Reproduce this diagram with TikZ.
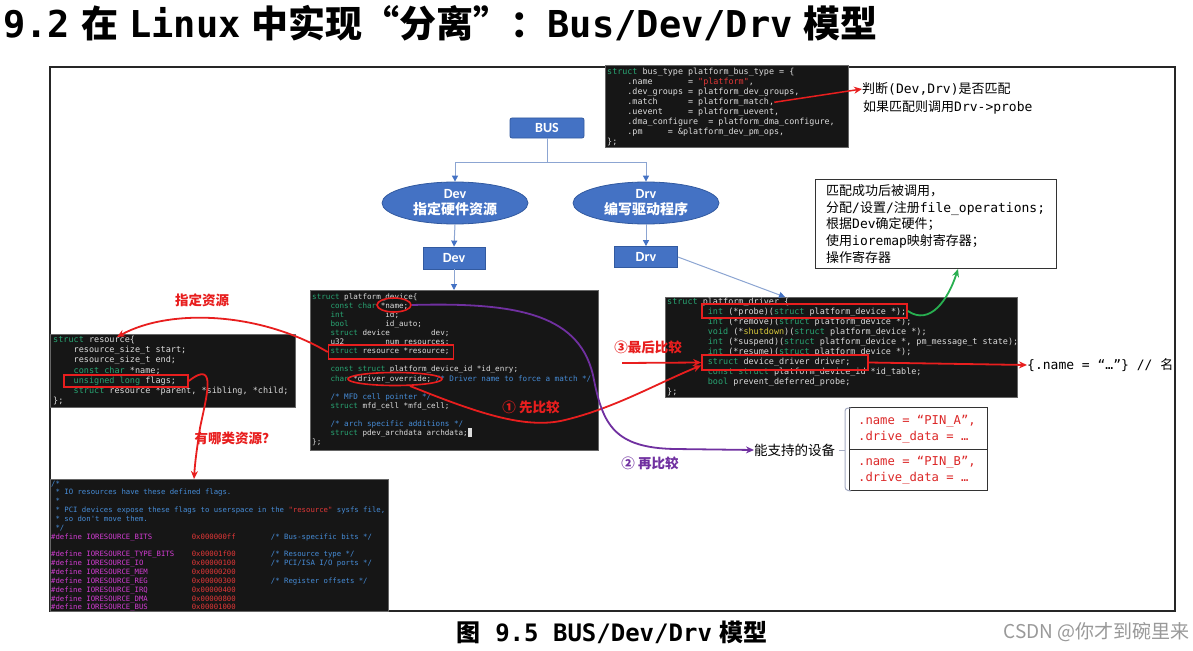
\documentclass[tikz,border=0pt]{standalone}
\usepackage{fontspec}
\setmainfont{DejaVu Sans Mono}
\setmonofont{DejaVu Sans Mono}
\newfontfamily\cjk{Noto Sans CJK SC}
\newfontfamily\carl{Carlito}
\usetikzlibrary{arrows.meta,shapes.geometric,calc}
\definecolor{bl}{RGB}{68,114,196}
\definecolor{bld}{RGB}{50,90,160}
\definecolor{cn}{RGB}{140,165,210}
\definecolor{rd}{RGB}{232,30,30}
\definecolor{gr}{RGB}{40,175,80}
\definecolor{pu}{RGB}{112,48,160}
\definecolor{codebg}{RGB}{22,22,22}
\definecolor{tx}{RGB}{220,220,220}
\definecolor{kw}{RGB}{40,165,115}
\definecolor{cm}{RGB}{70,140,215}
\definecolor{st}{RGB}{225,55,55}
\definecolor{ye}{RGB}{215,200,60}
\definecolor{mg}{RGB}{210,60,210}
\definecolor{pinred}{RGB}{220,40,40}
\definecolor{brk}{RGB}{165,172,195}
\newcommand\zh[1]{{\cjk #1}}
\newcommand\K[1]{\textcolor{kw}{#1}}
\newcommand\C[1]{\textcolor{cm}{#1}}
\newcommand\Q[1]{\textcolor{st}{#1}}
\newcommand\Y[1]{\textcolor{ye}{#1}}
\newcommand\M[1]{\textcolor{mg}{#1}}
\newcommand\Sp[1]{\hspace*{#1\fontcharwd\font`x}}
\newcounter{cbl}
\newcommand\cbstart[4]{\gdef\cbname{#1}\gdef\cbx{#2}\gdef\cby{#3}\gdef\cbd{#4}\setcounter{cbl}{0}}
\newcommand\codeln[1]{\node[codeln] (\cbname-\arabic{cbl}) at (\cbx,{\cby+\arabic{cbl}*\cbd}) {#1};\stepcounter{cbl}}
\newcommand\codeskip{\stepcounter{cbl}}
\tikzset{
  codeln/.style={anchor=base west, inner sep=0pt, text=tx},
  codebox/.style={fill=codebg, draw=black!60, line width=0.5pt, anchor=north west, inner sep=0pt},
  bshape/.style={fill=bl, draw=bld, line width=0.8pt, text=white, inner sep=0pt,
    font=\carl\bfseries\fontsize{14}{16}\selectfont},
  conn/.style={draw=cn, line width=1pt},
  carr/.style={conn, -{Triangle[length=6pt,width=6pt,color=bl]}},
  hl/.style={draw=rd, line width=1.6pt, inner sep=0pt},
  rarr/.style={draw=rd, line width=1.8pt, -{Stealth[length=8pt,width=7pt]}},
  garr/.style={draw=gr, line width=1.8pt, -{Stealth[length=8pt,width=7pt]}},
  parr/.style={draw=pu, line width=1.8pt, -{Stealth[length=8pt,width=7pt]}},
  lbl/.style={inner sep=0pt, font=\fontsize{13}{16}\selectfont},
  redlbl/.style={inner sep=0pt, text=rd, font=\cjk\bfseries\fontsize{13.5}{16}\selectfont},
  pintx/.style={inner sep=0pt, anchor=west, text=pinred, font=\fontsize{12.2}{14}\selectfont},
}
\begin{document}
\begin{tikzpicture}[x=1pt,y=-1pt]
\useasboundingbox (0,0) rectangle (1193,650);
\fill[white] (0,0) rectangle (1193,650);
% title
\node[anchor=base west, inner sep=0pt] (title) at (3,38)
  {\fontsize{37}{40}\selectfont\bfseries 9.2\hspace{0.3em}\zh{在}\hspace{0.3em}Linux\hspace{0.3em}\zh{中实现“分离”：}Bus/Dev/Drv\hspace{0.3em}\zh{模型}};
% frame
\draw[line width=1.5pt, black!85] (50,67) rectangle (1175,611);
% caption and watermark
\node[inner sep=0pt] (caption) at (612,632)
  {\fontsize{24}{28}\selectfont\bfseries \zh{图} 9.5 BUS/Dev/Drv\hspace{0.3em}\zh{模型}};
\node[anchor=east, inner sep=0pt, text=black!40] (wm) at (1190,632)
  {\cjk\fontsize{19}{22}\selectfont CSDN @你才到碗里来};

% ---------- code boxes ----------
\node[codebox, minimum width=243pt, minimum height=82pt] (busc) at (605,65) {};
\node[codebox, minimum width=288pt, minimum height=160pt] (pdev) at (310,290) {};
\node[codebox, minimum width=352pt, minimum height=100pt] (pdrv) at (665,297) {};
\node[codebox, minimum width=245pt, minimum height=73pt] (res) at (50,334) {};
\node[codebox, minimum width=338pt, minimum height=132pt] (defs) at (50,479) {};

% bus_type
\begin{scope}[every node/.append style={font=\ttfamily\fontsize{8.4}{10}\selectfont}]
\cbstart{bus}{607}{74.5}{10}
\codeln{\K{struct} bus\_type platform\_bus\_type = \{}
\codeln{\Sp4.name\Sp7= \Q{"platform"},}
\codeln{\Sp4.dev\_groups = platform\_dev\_groups,}
\codeln{\Sp4.match\Sp6= platform\_match,}
\codeln{\Sp4.uevent\Sp5= platform\_uevent,}
\codeln{\Sp4.dma\_configure\Sp2= platform\_dma\_configure,}
\codeln{\Sp4.pm\Sp5= \&platform\_dev\_pm\_ops,}
\codeln{\};}
\end{scope}

% platform_device
\begin{scope}[every node/.append style={font=\ttfamily\fontsize{7.6}{9}\selectfont}]
\cbstart{pd}{312}{299.5}{9.06}
\codeln{\K{struct} platform\_device\{}
\codeln{\Sp4\K{const char} *name;}
\codeln{\Sp4\K{int}\Sp9id;}
\codeln{\Sp4\K{bool}\Sp8id\_auto;}
\codeln{\Sp4\K{struct} device\Sp9dev;}
\codeln{\Sp4u32\Sp9num\_resources;}
\codeln{\Sp4\K{struct} resource *resource;}
\codeskip
\codeln{\Sp4\K{const struct} platform\_device\_id *id\_enry;}
\codeln{\Sp4\K{char} *driver\_override; \C{/* Driver name to force a match */}}
\codeskip
\codeln{\Sp4\C{/* MFD cell pointer */}}
\codeln{\Sp4\K{struct} mfd\_cell *mfd\_cell;}
\codeskip
\codeln{\Sp4\C{/* arch specific additions */}}
\codeln{\Sp4\K{struct} pdev\_archdata archdata;\textcolor{tx}{\rule[-1.5pt]{4.5pt}{8.5pt}}}
\codeln{\};}
\end{scope}

% platform_driver
\begin{scope}
\clip (pdrv.north west) rectangle (pdrv.south east);
\begin{scope}[every node/.append style={font=\ttfamily\fontsize{8.45}{10}\selectfont}]
\cbstart{pr}{667}{304.5}{10}
\codeln{\K{struct} platform\_driver \{}
\codeln{\Sp8\K{int} (*probe)(\K{struct} platform\_device *);}
\codeln{\Sp8\K{int} (*remove)(\K{struct} platform\_device *);}
\codeln{\Sp8\K{void} (*\Y{shutdown})(\K{struct} platform\_device *);}
\codeln{\Sp8\K{int} (*suspend)(\K{struct} platform\_device *, pm\_message\_t state);}
\codeln{\Sp8\K{int} (*resume)(\K{struct} platform\_device *);}
\codeln{\Sp8\K{struct} device\_driver driver;}
\codeln{\Sp8\K{const struct} platform\_device\_id *id\_table;}
\codeln{\Sp8\K{bool} prevent\_deferred\_probe;}
\codeln{\};}
\end{scope}
\end{scope}

% resource
\begin{scope}[every node/.append style={font=\ttfamily\fontsize{8.5}{10}\selectfont}]
\cbstart{rs}{53}{342.5}{10.2}
\codeln{\K{struct} resource\{}
\codeln{\Sp4resource\_size\_t start;}
\codeln{\Sp4resource\_size\_t end;}
\codeln{\Sp4\K{const char} *name;}
\codeln{\Sp4\K{unsigned long} flags;}
\codeln{\Sp4\K{struct} resource *parent, *sibling, *child;}
\codeln{\};}
\end{scope}

% defines
\begin{scope}
\clip (defs.north west) rectangle (defs.south east);
\begin{scope}[every node/.append style={font=\ttfamily\fontsize{7.3}{9}\selectfont}]
\cbstart{df}{51}{486}{8.85}
\codeln{\C{/*}}
\codeln{\C{\Sp1* IO resources have these defined flags.}}
\codeln{\C{\Sp1*}}
\codeln{\C{\Sp1* PCI devices expose these flags to userspace in the \Q{"resource"} sysfs file,}}
\codeln{\C{\Sp1* so don't move them.}}
\codeln{\C{\Sp1*/}}
\codeln{\M{\#define IORESOURCE\_BITS}\Sp9\Q{0x000000ff}\Sp8\C{/* Bus-specific bits */}}
\codeskip
\codeln{\M{\#define IORESOURCE\_TYPE\_BITS}\Sp4\Q{0x00001f00}\Sp8\C{/* Resource type */}}
\codeln{\M{\#define IORESOURCE\_IO}\Sp{11}\Q{0x00000100}\Sp8\C{/* PCI/ISA I/O ports */}}
\codeln{\M{\#define IORESOURCE\_MEM}\Sp{10}\Q{0x00000200}}
\codeln{\M{\#define IORESOURCE\_REG}\Sp{10}\Q{0x00000300}\Sp8\C{/* Register offsets */}}
\codeln{\M{\#define IORESOURCE\_IRQ}\Sp{10}\Q{0x00000400}}
\codeln{\M{\#define IORESOURCE\_DMA}\Sp{10}\Q{0x00000800}}
\codeln{\M{\#define IORESOURCE\_BUS}\Sp{10}\Q{0x00001000}}
\end{scope}
\end{scope}

% ---------- blue tree ----------
\node[bshape, rectangle, rounded corners=2pt, minimum width=74pt, minimum height=20pt] (bus) at (547,128) {BUS};
\node[bshape, ellipse, minimum width=146pt, minimum height=42pt, align=center] (devE) at (455,203) {Dev\\\zh{指定硬件资源}};
\node[bshape, ellipse, minimum width=146pt, minimum height=42pt, align=center] (drvE) at (646,203) {Drv\\\zh{编写驱动程序}};
\node[bshape, rectangle, minimum width=62pt, minimum height=22pt] (devB) at (454,258) {Dev};
\node[bshape, rectangle, minimum width=63pt, minimum height=21pt] (drvB) at (646,257) {Drv};
\coordinate (bj) at (547,162);
\draw[conn] (bus.south) -- (bj);
\draw[carr] (bj) -| (devE.north);
\draw[carr] (bj) -| (drvE.north);
\draw[carr] (devE.south) -- (devB.north);
\draw[carr] (drvE.south) -- (drvB.north);
\draw[carr] (devB.south) -- (devB.south |- pdev.north);
\draw[carr] (drvB.east) -- ($(pdrv.north west)+(120,0)$);

% ---------- highlights ----------
\node[hl, ellipse, minimum width=34pt, minimum height=14pt] (nameE) at (394,305) {};
\node[hl, rectangle, minimum width=125pt, minimum height=14pt] (resR) at (391,352) {};
\node[hl, ellipse, minimum width=94pt, minimum height=13pt] (ovE) at (395,379) {};
\node[hl, rectangle, minimum width=205pt, minimum height=14pt] (probeR) at (804.5,311) {};
\node[hl, rectangle, minimum width=166pt, minimum height=15pt] (drvR) at (785,362.5) {};
\node[hl, rectangle, minimum width=124pt, minimum height=12pt] (flagsR) at (126,381) {};

% ---------- labels ----------
\node[lbl, anchor=west] (judge1) at (862,89) {\zh{判断}(Dev,Drv)\zh{是否匹配}};
\node[lbl, anchor=west] (judge2) at (863,107) {\zh{如果匹配则调用}Drv->probe};
\node[draw=black!80, line width=1pt, minimum width=241pt, minimum height=89pt, anchor=north west, inner sep=0pt] (tbox) at (815,179) {};
\node[lbl, anchor=west, align=left, font=\fontsize{13}{16.6}\selectfont] (tboxtext) at (826,224)
  {\zh{匹配成功后被调用，}\\\zh{分配}/\zh{设置}/\zh{注册}file\_operations;\\\zh{根据}Dev\zh{确定硬件；}\\\zh{使用}ioremap\zh{映射寄存器；}\\\zh{操作寄存器}};
\node[lbl, anchor=west] (nameTxt) at (1027,365) {\{.name = “…”\} // \zh{名}};
\node[lbl, anchor=west, font=\cjk\fontsize{13.5}{16}\selectfont] (support) at (754,450) {能支持的设备};
\node[draw=black!80, line width=1pt, minimum width=138pt, minimum height=42pt, anchor=north west, inner sep=0pt] (pinA) at (849,407) {};
\node[draw=black!80, line width=1pt, minimum width=138pt, minimum height=41pt, anchor=north west, inner sep=0pt] (pinB) at (849,449) {};
\node[pintx] (pa1) at (858,421) {.name = “PIN\_A”,};
\node[pintx] (pa2) at (858,437) {.drive\_data = …};
\node[pintx] (pb1) at (858,462) {.name = “PIN\_B”,};
\node[pintx] (pb2) at (858,478) {.drive\_data = …};
\draw[brk, line width=1pt, rounded corners=3pt] ($(pinA.north west)+(2,1)$) -- (845,408) -- (845,490) -- ($(pinB.south west)+(2,0)$);
\draw[brk, line width=1pt] ($(support.east)+(4,0)$) -- (845,450);

\node[redlbl] (l1) at (202,300) {指定资源};
\node[redlbl] (l2) at (235,438) {有哪类资源？};
\node[redlbl] (l3) at (648,347) {③最后比较};
\node[redlbl] (l4) at (531,407) {①\ 先比较};
\node[redlbl, text=pu] (l5) at (650,463) {②\ 再比较};

% ---------- arrows ----------
\draw[rarr, line width=1.5pt] (bus-3.east) -- (judge1.west);
\coordinate (resTip) at (117,337);
\draw[rarr] (resR.west) .. controls (260,312) and (170,308) .. (resTip);
\coordinate (defsTip) at ($(defs.north west)+(144,0)$);
\draw[rarr] (flagsR.east) .. controls (218,358) and (206,398) .. (200,428) .. controls (197,448) and (195,462) .. (defsTip);
\coordinate (tboxTip) at ($(tbox.south west)+(143,0)$);
\draw[garr] (probeR.east) .. controls (930,326) and (948,300) .. (tboxTip);
\draw[rarr] (drvR.east) -- (nameTxt.west);
\coordinate (c3) at (622,363);
\draw[rarr] (c3) -- (drvR.west);
\draw[rarr] (ovE.-25) .. controls (475,412) and (525,430) .. (565,420) .. controls (615,408) and (660,382) .. ($(drvR.west)+(0,3)$);
\draw[parr] (nameE.east) .. controls (520,302) and (582,315) .. (594,380) .. controls (603,425) and (615,448) .. (675,449) -- (support.west);
\end{tikzpicture}
\end{document}
